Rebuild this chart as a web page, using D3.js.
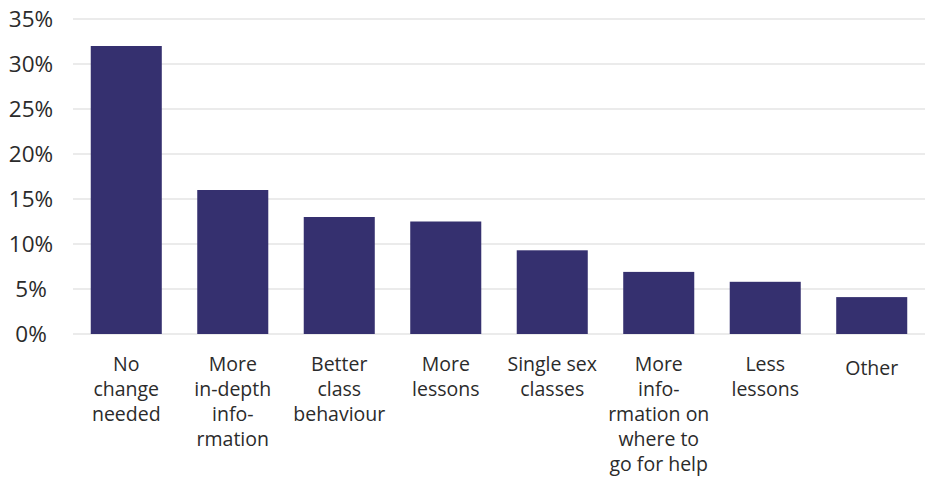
<!DOCTYPE html>
<html>
<head>
<meta charset="utf-8">
<script src="https://cdn.jsdelivr.net/npm/d3@7"></script>
<style>
  html, body { margin: 0; padding: 0; background: #fff; }
  svg { display: block; }
  text { font-family: "Open Sans", "Lato", sans-serif; fill: #2b2b2b; font-weight: 500; }
</style>
</head>
<body>
<svg id="chart" width="926" height="480"></svg>
<script>
// Survey answers: what would improve the lessons
const categories = [
  ["No", "change", "needed"],
  ["More", "in-depth", "info-", "rmation"],
  ["Better", "class", "behaviour"],
  ["More", "lessons"],
  ["Single sex", "classes"],
  ["More", "info-", "rmation on", "where to", "go for help"],
  ["Less", "lessons"],
  ["Other"]
];
const values = [32.0, 16.0, 13.0, 12.5, 9.3, 6.9, 5.8, 4.1];
const yTicks = [0, 5, 10, 15, 20, 25, 30, 35];

const svg = d3.select("#chart");
const margin = { left: 73, right: 1, top: 19, bottom: 146 };
const W = 926, H = 480;

const x = d3.scaleBand()
  .domain(d3.range(categories.length))
  .range([margin.left, W - margin.right])
  .paddingInner(0.333)
  .paddingOuter(0.1667);

const y = d3.scaleLinear()
  .domain([0, 35])
  .range([H - margin.bottom, margin.top]);

// horizontal gridlines
svg.append("g")
  .selectAll("line")
  .data(yTicks)
  .join("line")
  .attr("x1", margin.left)
  .attr("x2", W - margin.right)
  .attr("y1", d => y(d))
  .attr("y2", d => y(d))
  .attr("stroke", "#e4e4e4")
  .attr("stroke-width", 1.5);

// y tick labels
svg.append("g")
  .selectAll("text")
  .data(yTicks)
  .join("text")
  .attr("x", 31)
  .attr("y", d => y(d))
  .attr("dy", "0.36em")
  .attr("text-anchor", "middle")
  .style("font-size", "22.5px")
  .text(d => d + "%");

// bars
svg.append("g")
  .selectAll("rect")
  .data(values)
  .join("rect")
  .attr("x", (d, i) => x(i))
  .attr("width", x.bandwidth())
  .attr("y", d => y(d))
  .attr("height", d => y(0) - y(d))
  .attr("fill", "#35306f");

// category labels; single-line labels sit a little lower
const labels = svg.append("g")
  .selectAll("text")
  .data(categories)
  .join("text")
  .attr("x", (d, i) => x(i) + x.bandwidth() / 2)
  .attr("y", d => d.length === 1 ? 375 : 371)
  .attr("text-anchor", "middle")
  .style("font-size", "19.5px");

labels.selectAll("tspan")
  .data(d => d)
  .join("tspan")
  .attr("x", function () { return d3.select(this.parentNode).attr("x"); })
  .attr("dy", (d, i) => i === 0 ? 0 : 25)
  .text(d => d);
</script>
</body>
</html>
